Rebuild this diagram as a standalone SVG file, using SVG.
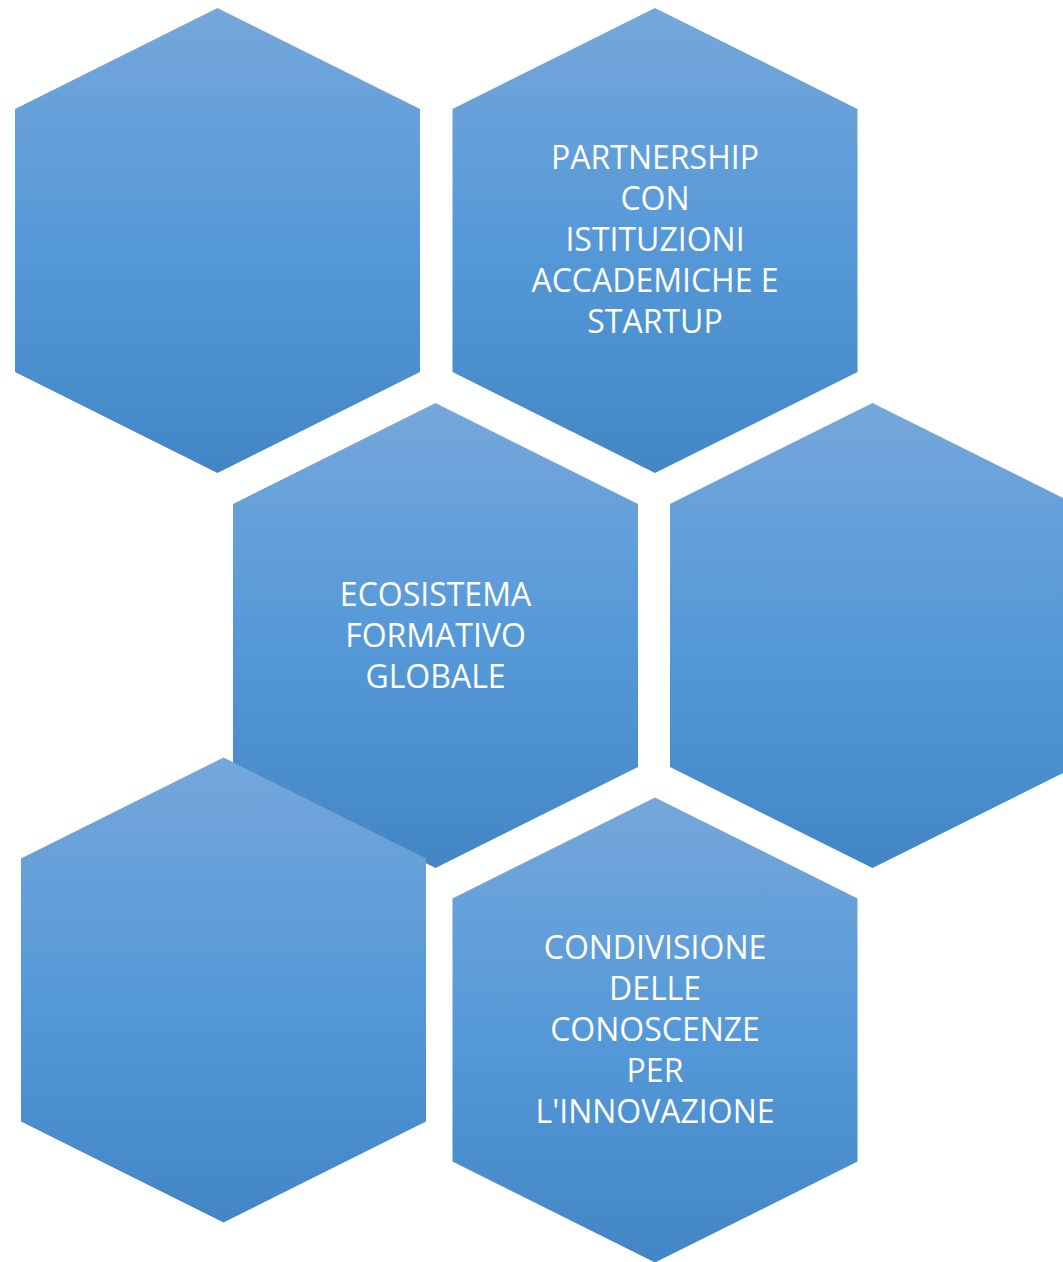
<svg xmlns="http://www.w3.org/2000/svg" width="1063" height="1262" viewBox="0 0 1063 1262">
<defs>
<linearGradient id="g" x1="0" y1="0" x2="0" y2="1">
<stop offset="0" stop-color="#75A7DB"/>
<stop offset="0.5" stop-color="#5699D8"/>
<stop offset="1" stop-color="#4286C6"/>
</linearGradient>
<polygon id="hex" points="0,0 202.5,101 202.5,364 0,465 -202.5,364 -202.5,101"/>
</defs>
<style>
.hex{fill:url(#g);}
.lbl{font-family:"Open Sans","Liberation Sans",sans-serif;font-size:32px;fill:#FFFFFF;text-anchor:middle;}
</style>
<rect width="1063" height="1262" fill="#FFFFFF"/>
<g id="connectors"></g>
<g id="hex-top-left"><use href="#hex" class="hex" x="217.5" y="8"/></g>
<g id="hex-top-right"><use href="#hex" class="hex" x="655" y="8"/>
<text class="lbl"><tspan x="655" y="169">PARTNERSHIP</tspan><tspan x="655" y="210">CON</tspan><tspan x="655" y="251">ISTITUZIONI</tspan><tspan x="655" y="292">ACCADEMICHE E</tspan><tspan x="655" y="333">STARTUP</tspan></text></g>
<g id="hex-middle-left"><use href="#hex" class="hex" x="435.5" y="403"/>
<text class="lbl"><tspan x="435.5" y="606">ECOSISTEMA</tspan><tspan x="435.5" y="647">FORMATIVO</tspan><tspan x="435.5" y="688">GLOBALE</tspan></text></g>
<g id="hex-middle-right"><use href="#hex" class="hex" x="872.5" y="403"/></g>
<g id="hex-bottom-left"><use href="#hex" class="hex" x="223.5" y="757.5"/></g>
<g id="hex-bottom-right"><use href="#hex" class="hex" x="655" y="797.5"/>
<text class="lbl"><tspan x="655" y="959">CONDIVISIONE</tspan><tspan x="655" y="1000">DELLE</tspan><tspan x="655" y="1041">CONOSCENZE</tspan><tspan x="655" y="1082">PER</tspan><tspan x="655" y="1123">L'INNOVAZIONE</tspan></text></g>
</svg>
